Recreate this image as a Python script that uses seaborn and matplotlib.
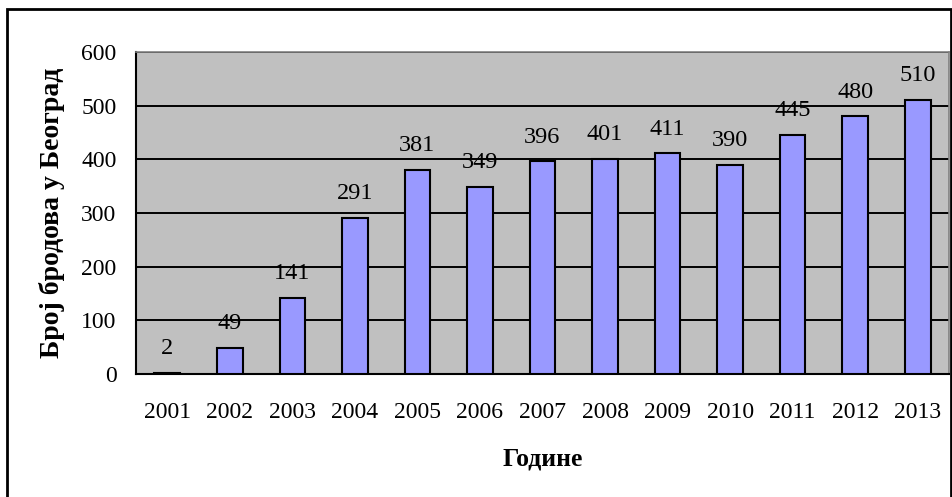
import matplotlib
matplotlib.use("Agg")
import matplotlib.pyplot as plt
import matplotlib.patches as mpatches
import seaborn as sns
import pandas as pd

years = ["2001", "2002", "2003", "2004", "2005", "2006", "2007",
         "2008", "2009", "2010", "2011", "2012", "2013"]
ships = [2, 49, 141, 291, 381, 349, 396, 401, 411, 390, 445, 480, 510]

df = pd.DataFrame({"year": years, "ships": ships})

sns.set_style("white")
plt.rcParams["font.family"] = ["Liberation Serif", "DejaVu Serif"]

fig = plt.figure(figsize=(9.53, 4.97), dpi=100)
ax = fig.add_axes([136 / 953, 1 - 374 / 497, (949 - 136) / 953, (374 - 52) / 497])
ax.set_facecolor("#C0C0C0")

sns.barplot(data=df, x="year", y="ships", color="#9999FF", width=0.41,
            edgecolor="black", linewidth=1.5, saturation=1, ax=ax, zorder=3)

for i, v in enumerate(ships):
    ax.annotate(str(v), (i, v), xytext=(0, 10), textcoords="offset points",
                ha="center", va="bottom", fontsize=17.5, color="black", zorder=4)

ax.set_ylim(0, 600)
ax.set_yticks(range(0, 601, 100))
ax.set_xlim(-0.5, len(years) - 0.5)
ax.yaxis.grid(True, color="black", linewidth=1.4, zorder=1)
ax.set_axisbelow(True)

ax.set_xticks(range(len(years)))
ax.set_xticklabels(years)
ax.set_xticks([i - 0.5 for i in range(len(years) + 1)], minor=True)
ax.tick_params(axis="x", which="major", length=0, pad=20, labelsize=17, labelcolor="black")
ax.tick_params(axis="x", which="minor", length=7, width=1.5, direction="out", color="black")
ax.tick_params(axis="y", length=7, width=1.5, direction="out", color="black",
               labelsize=17, labelcolor="black", pad=7)

for s in ["left", "bottom"]:
    ax.spines[s].set_color("black")
    ax.spines[s].set_linewidth(1.5)
for s in ["top", "right"]:
    ax.spines[s].set_color("#808080")
    ax.spines[s].set_linewidth(1.2)

ax.set_xlabel("Године", fontsize=18.5, fontweight="bold", color="black", labelpad=18)
ax.set_ylabel("Број бродова у Београд", fontsize=20, fontweight="bold", color="black", labelpad=12)

fig.patches.append(mpatches.Rectangle((7 / 953, -0.02), 944 / 953, 1.02 - 9 / 497,
                                      transform=fig.transFigure, fill=False,
                                      edgecolor="black", linewidth=2))

fig.savefig("out.png", dpi=100)
